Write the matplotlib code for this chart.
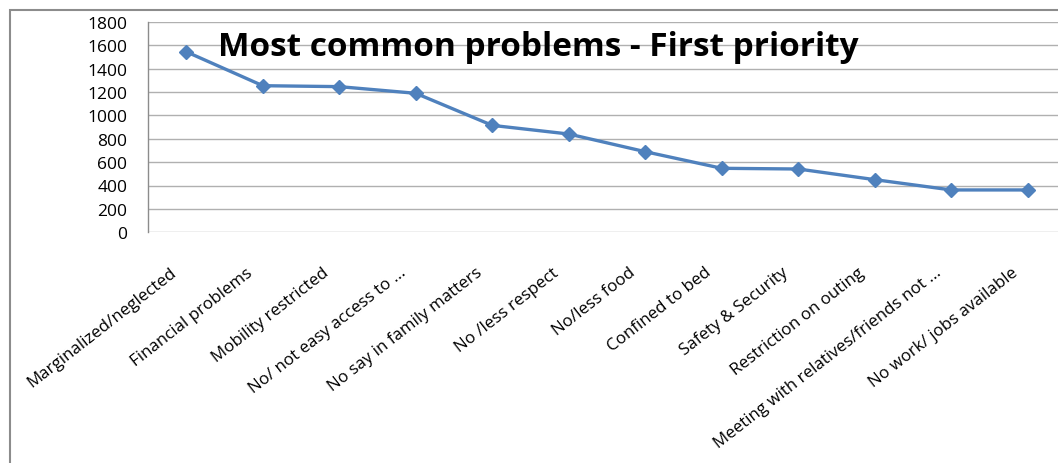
import matplotlib
matplotlib.use("Agg")
import matplotlib.pyplot as plt
from matplotlib.transforms import ScaledTranslation
from matplotlib.patches import Rectangle

categories = [
    "Marginalized/neglected",
    "Financial problems",
    "Mobility restricted",
    "No/ not easy access to ...",
    "No say in family matters",
    "No /less respect",
    "No/less food",
    "Confined to bed",
    "Safety & Security",
    "Restriction on outing",
    "Meeting with relatives/friends not ...",
    "No work/ jobs available",
]
values = [1543, 1253, 1245, 1188, 914, 840, 689, 547, 541, 450, 362, 362]
yticks = [0, 200, 400, 600, 800, 1000, 1200, 1400, 1600, 1800]
title = "Most common problems - First priority"

W, H = 1058, 464
fig = plt.figure(figsize=(W / 100, H / 100), dpi=100)
fig.patch.set_facecolor("white")

# outer chart frame
fig.patches.append(Rectangle((10 / W, -0.2), 1.2, (H - 11) / H + 0.2,
                             transform=fig.transFigure, fill=False,
                             edgecolor="#8c8c8c", linewidth=1.5))

left = 148 / W
right = 1066 / W
bottom = (H - 233.3) / H
top = (H - 22.7) / H
ax = fig.add_axes([left, bottom, right - left, top - bottom])
ax.set_facecolor("none")

x = list(range(len(categories)))
ax.plot(x, values, color="#4F81BD", linewidth=2.4, marker="D",
        markersize=7, markerfacecolor="#4F81BD", markeredgecolor="#4F81BD",
        zorder=3)

ax.set_xlim(-0.5, len(categories) - 0.5)
ax.set_ylim(0, 1800)
ax.set_yticks(yticks)
ax.set_yticklabels([str(v) for v in yticks], fontsize=12.5, family="Open Sans")
ax.yaxis.grid(True, color="#b0b0b0", linewidth=1.0)
ax.set_axisbelow(True)
ax.tick_params(axis="y", length=0, pad=15)
ax.tick_params(axis="x", length=0, pad=0)

for s in ["top", "right", "bottom"]:
    ax.spines[s].set_visible(False)
ax.spines["left"].set_color("#8c8c8c")
ax.spines["left"].set_linewidth(1.0)

ax.set_xticks(x)
ax.set_xticklabels(categories, fontsize=12.2, family="Open Sans",
                   rotation=38, ha="right", va="center",
                   rotation_mode="anchor")
off = ScaledTranslation(-12 / 100, -38 / 100, fig.dpi_scale_trans)
for lab in ax.get_xticklabels():
    lab.set_transform(lab.get_transform() + off)

fig.text(538 / W, (H - 47) / H, title, ha="center", va="center",
         fontsize=24, fontweight="bold", family="Open Sans", color="black")

fig.savefig("out.png", dpi=100)
